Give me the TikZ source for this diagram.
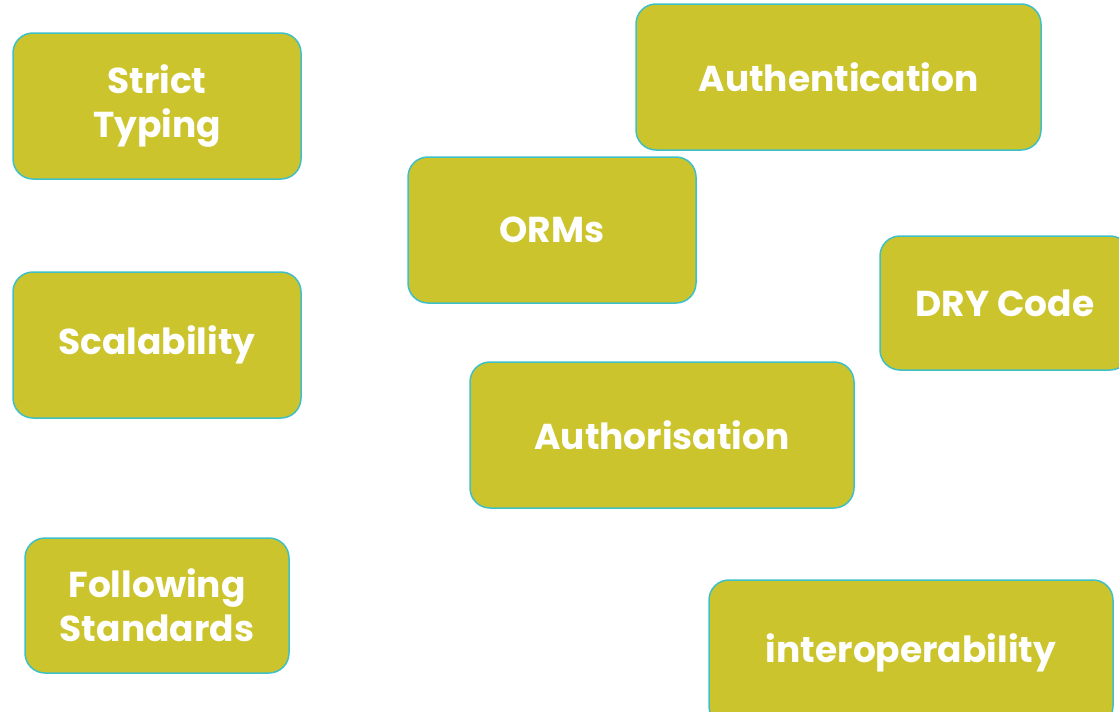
\documentclass[tikz,border=0pt]{standalone}
\usepackage{fontspec}
\setmainfont{Poppins}
\usepackage{tikz}
\definecolor{olivebox}{HTML}{CCC42C}
\definecolor{tealline}{HTML}{3FBFC6}
\tikzset{
	topic/.style={draw=tealline, line width=1.5pt, fill=olivebox, rounded corners=20pt,
		text=white, font=\fontsize{36}{44}\selectfont\bfseries, align=center, inner sep=0pt},
}

\begin{document}
\begin{tikzpicture}[x=1pt,y=-1pt]
		\useasboundingbox (0,0) rectangle (1119,712);
		\clip (0,0) rectangle (1119,712);
		\node[topic, minimum width=288pt, minimum height=146pt] (strict) at (157,106) {Strict\\Typing};
		\node[topic, minimum width=288pt, minimum height=146pt] (scal) at (157,345) {Scalability};
		\node[topic, minimum width=264pt, minimum height=135pt] (standards) at (157,605.5) {Following\\Standards};
		\node[topic, minimum width=405pt, minimum height=146pt] (authn) at (838.5,77) {Authentication};
		\node[topic, minimum width=288pt, minimum height=146pt] (orms) at (552,230) {ORMs};
		\node[topic, minimum width=250pt, minimum height=134pt] (dry) at (1005,303) {DRY Code};
		\node[topic, minimum width=384pt, minimum height=146pt] (authz) at (662,435) {Authorisation};
		\node[topic, minimum width=404pt, minimum height=146pt] (interop) at (911,653) {interoperability};
		
		\end{tikzpicture}
\end{document}
